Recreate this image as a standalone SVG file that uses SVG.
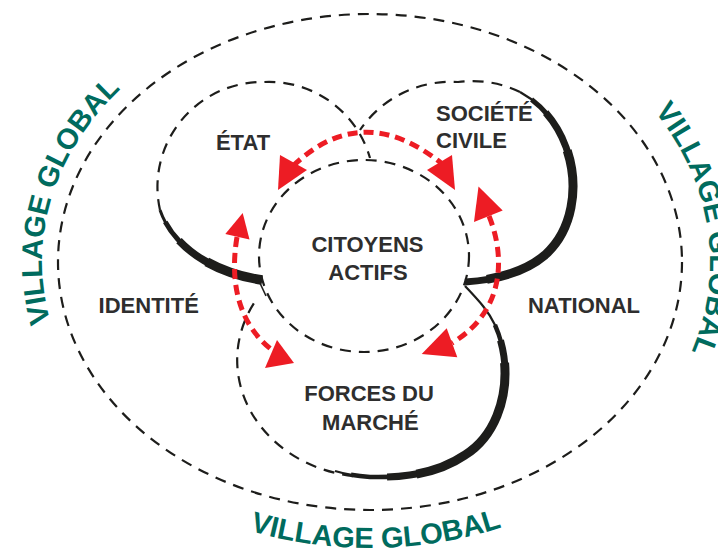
<svg xmlns="http://www.w3.org/2000/svg" width="718" height="552" viewBox="0 0 718 552">
  <style>
    .dash { fill: none; stroke: #1d1d1b; stroke-width: 2.2; stroke-dasharray: 11 8; }
    .brush { fill: none; stroke: #1d1d1b; stroke-linecap: butt; }
    .lbl { font-family: "Liberation Sans", Arial, sans-serif; font-weight: bold; font-size: 22px; fill: #2e2e2e; text-anchor: middle; }
    .vg { font-family: "Liberation Sans", Arial, sans-serif; font-weight: bold; font-size: 29px; fill: #006b5e; text-anchor: middle; }
    .flow { fill: none; stroke: #ed1c24; stroke-width: 5; stroke-dasharray: 10 6; }
    .head { fill: #ed1c24; }
  </style>
  <defs>
    <!-- baselines for the curved outer captions -->
    <path id="p-left" d="M370,528 A328,266 0 0 1 370,-4"/>
    <path id="p-right" d="M370,-13 A340,275 0 0 1 370,537"/>
    <path id="p-bottom" d="M18,262 A352,286 0 0 0 722,262"/>
    <!-- centre lines of the brush strokes -->
    <path id="b-etat" pathLength="100" d="M160,210 C172,245 210,272 262,280"/>
    <path id="b-societe" pathLength="100" d="M520,92 C580,125 590,215 545,255 C525,272 495,280 465,282"/>
    <path id="b-forces" pathLength="100" d="M465,286 C478,300 488,310 495,325 C515,370 505,430 465,455 C440,472 410,478 370,477 C355,476 345,474 335,471"/>
  </defs>

  <rect width="718" height="552" fill="#ffffff"/>

  <!-- global frame -->
  <g id="village-global">
    <ellipse class="dash" cx="370" cy="262" rx="312" ry="248"/>
    <text class="vg"><textPath href="#p-left" startOffset="57.2%">VILLAGE GLOBAL</textPath></text>
    <text class="vg"><textPath href="#p-right" startOffset="46.3%">VILLAGE GLOBAL</textPath></text>
    <text class="vg"><textPath href="#p-bottom" startOffset="50.6%">VILLAGE GLOBAL</textPath></text>
  </g>

  <g id="etat">
    <path class="dash" d="M160,210 A105,105 0 0 1 264,82 A105,105 0 0 1 370,158"/>
    <use href="#b-etat" class="brush" stroke-width="3"/>
    <use href="#b-etat" class="brush" stroke-width="5" stroke-dasharray="0 10 90 100"/>
    <use href="#b-etat" class="brush" stroke-width="7.5" stroke-dasharray="0 28 72 100"/>
    <use href="#b-etat" class="brush" stroke-width="9.5" stroke-dasharray="0 55 45 100"/>
    <path d="M259,281 L266,296" fill="none" stroke="#1d1d1b" stroke-width="1.6"/>
    <text class="lbl" x="243" y="149.6">ÉTAT</text>
  </g>

  <g id="societe-civile">
    <path class="dash" d="M520,92 A110,110 0 0 0 458,82 A110,110 0 0 0 360,130"/>
    <use href="#b-societe" class="brush" stroke-width="2.5"/>
    <use href="#b-societe" class="brush" stroke-width="5" stroke-dasharray="0 5 95 100"/>
    <use href="#b-societe" class="brush" stroke-width="7" stroke-dasharray="0 12 88 100"/>
    <use href="#b-societe" class="brush" stroke-width="9" stroke-dasharray="0 28 64 100"/>
    <text class="lbl" style="text-anchor:start" x="436" y="121.4">SOCIÉTÉ</text>
    <text class="lbl" style="text-anchor:start" x="436" y="147.8">CIVILE</text>
  </g>

  <g id="citoyens-actifs">
    <ellipse class="dash" cx="364" cy="256" rx="105" ry="96"/>
    <text class="lbl" x="367.5" y="251.7">CITOYENS</text>
    <text class="lbl" x="368" y="279.8">ACTIFS</text>
  </g>

  <g id="forces-du-marche">
    <path class="dash" d="M372,477 A133,117 0 0 1 256,300"/>
    <use href="#b-forces" class="brush" stroke-width="2.2"/>
    <use href="#b-forces" class="brush" stroke-width="4.5" stroke-dasharray="0 15 80 100"/>
    <use href="#b-forces" class="brush" stroke-width="7" stroke-dasharray="0 20 64 100"/>
    <use href="#b-forces" class="brush" stroke-width="9" stroke-dasharray="0 27 48 100"/>
    <text class="lbl" x="369" y="401">FORCES DU</text>
    <text class="lbl" x="370.4" y="430">MARCHÉ</text>
  </g>

  <g id="identite">
    <text class="lbl" x="148.7" y="313">IDENTITÉ</text>
  </g>

  <g id="national">
    <text class="lbl" x="584" y="313">NATIONAL</text>
  </g>

  <!-- two-way exchanges around the active citizens -->
  <g id="connectors">
    <path class="flow" d="M293,166 Q362,100 441,163"/>
    <polygon class="head" points="278,190 280,155 307,170"/>
    <polygon class="head" points="427,170 452,155 455,190"/>

    <path class="flow" d="M489,216 C506,258 504,312 452,343"/>
    <polygon class="head" points="474,222 478.5,186.6 502.7,210.5"/>
    <polygon class="head" points="421.7,354 446.7,328.3 457.3,357.3"/>

    <path class="flow" d="M237,237 C229,285 240,325 272,350"/>
    <polygon class="head" points="225.3,234 242.7,213 249.5,239.4"/>
    <polygon class="head" points="265,368 277,340 294,363"/>
  </g>
</svg>
